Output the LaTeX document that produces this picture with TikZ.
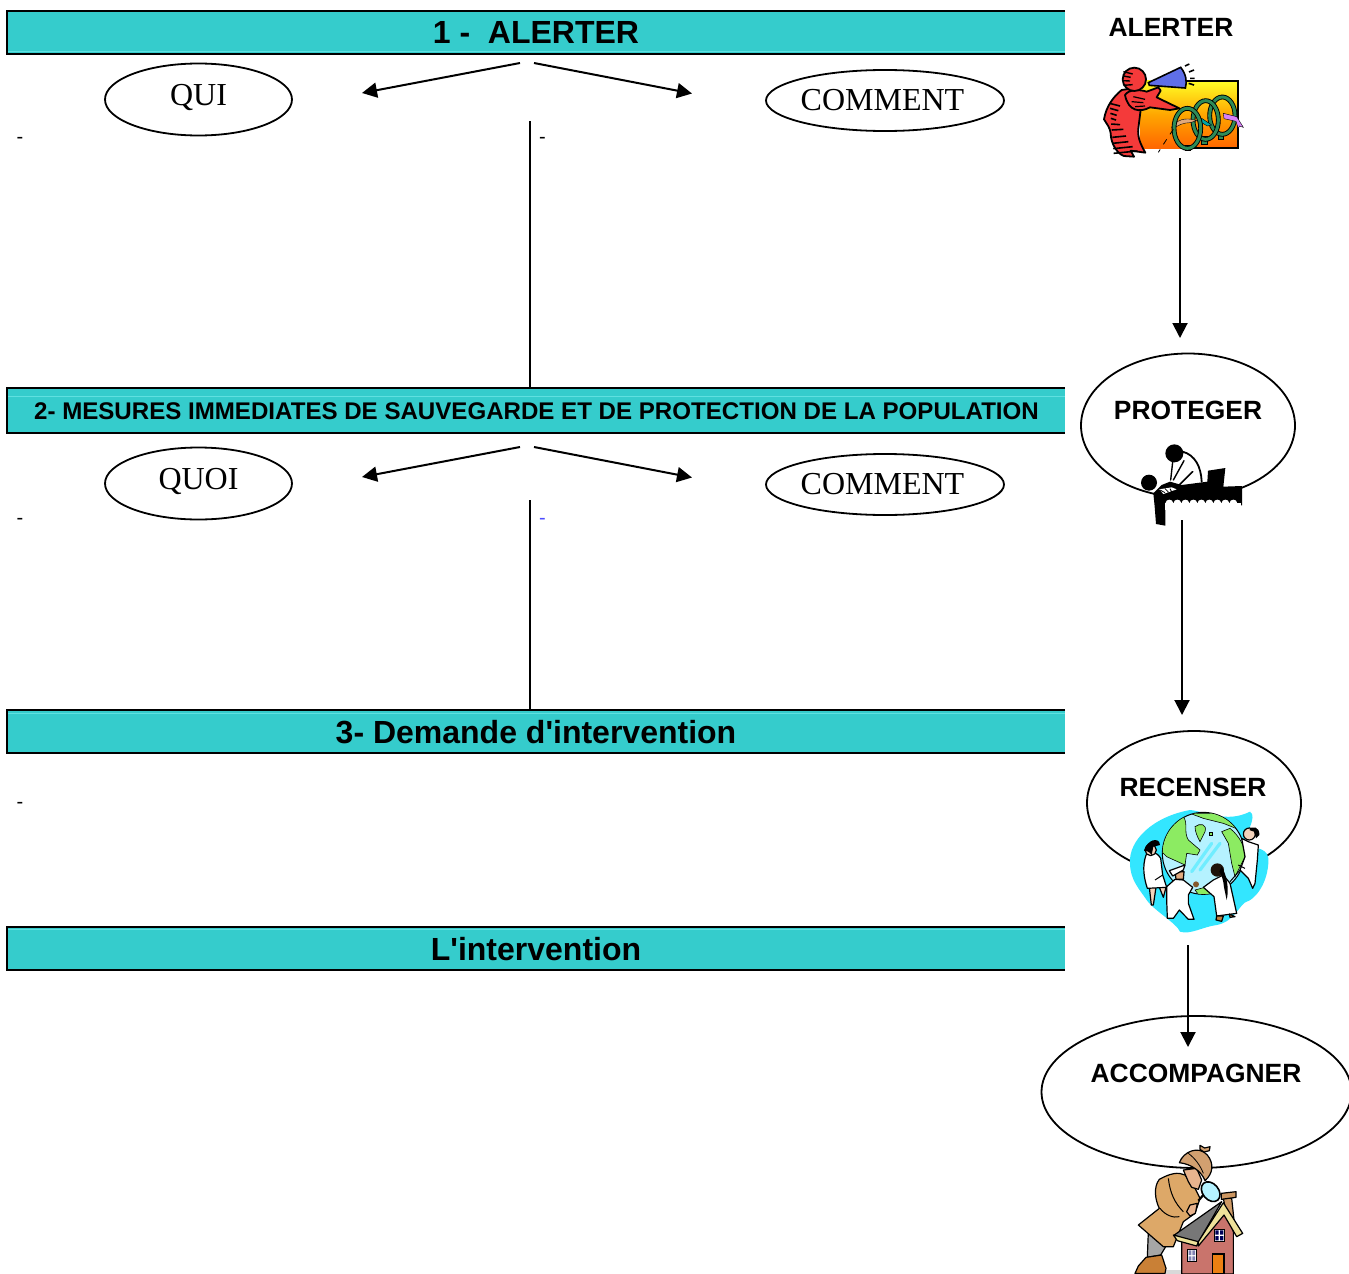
\documentclass[tikz,border=0pt]{standalone}
\usepackage{fontspec}
\setmainfont{Liberation Sans}
\newfontfamily\serifface{Liberation Serif}
\usetikzlibrary{shapes.geometric,arrows.meta}
\definecolor{barfill}{HTML}{35CCCC}
\definecolor{barline}{HTML}{5FE0E0}
\definecolor{redman}{HTML}{F43A3A}
\definecolor{megablue}{HTML}{5F6FE8}
\definecolor{ringgreen}{HTML}{2E8B57}
\definecolor{blobcyan}{HTML}{33E6FF}
\definecolor{oceanc}{HTML}{B5F2FF}
\definecolor{landg}{HTML}{8CEB62}
\definecolor{coat}{HTML}{DDA868}
\definecolor{hatc}{HTML}{D2A070}
\definecolor{wallc}{HTML}{C9746C}
\definecolor{roofc}{HTML}{777777}
\definecolor{trimc}{HTML}{EFE29A}
\definecolor{skinc}{HTML}{E9B48E}
\tikzset{
  barbox/.style={fill=barfill,inner sep=0pt,outer sep=0pt,minimum width=529pt,minimum height=#1,anchor=north west},
  barrule/.style={line width=1pt,black},
  barshine/.style={line width=0.4pt,barline},
  oval/.style={ellipse,draw=black,line width=0.9pt,fill=white,inner sep=0pt},
  serif label/.style={font=\serifface\fontsize{16}{18}\selectfont,inner sep=0pt},
  side label/.style={font=\bfseries\fontsize{13.2}{15}\selectfont,inner sep=0pt},
  bar label/.style={font=\bfseries\fontsize{16}{18}\selectfont,inner sep=0pt},
  dashmark/.style={font=\fontsize{10}{12}\selectfont,inner sep=0pt},
  link/.style={line width=1pt,-{Triangle[length=7.5pt,width=7.5pt]}},
  plainlink/.style={line width=1pt},
  art/.style={x=0.16667pt,y=-0.16667pt},
  ink/.style={draw=black,line width=0.6pt,line join=round},
}
\begin{document}
\begin{tikzpicture}[x=0.5pt,y=-0.5pt]
\useasboundingbox (0,0) rectangle (1349,1274);

% --- coloured bars
\node[barbox=21.6pt] (bar1) at (7,10.5) {};
\node[barbox=22.4pt] (bar2) at (7,388) {};
\node[barbox=21.4pt] (bar3) at (7,710) {};
\node[barbox=21.4pt] (bar4) at (7,927) {};
\draw[barshine] (8,51) -- (1065,51) (8,396) -- (1065,396) (8,713) -- (1065,713) (8,929.5) -- (1065,929.5);
\foreach \b in {bar1,bar2,bar3,bar4}
  \draw[barrule] (\b.north east) -- (\b.north west) -- (\b.south west) -- (\b.south east);
\node[bar label] (t1) at (536,32) {1 -\ \ ALERTER};
\node[font=\bfseries\fontsize{12.05}{14}\selectfont,inner sep=0pt] (t2) at (536.5,411) {2- MESURES IMMEDIATES DE SAUVEGARDE ET DE PROTECTION DE LA POPULATION};
\node[bar label] (t3) at (536,732) {3- Demande d\textquotesingle intervention};
\node[bar label] (t4) at (536,949) {L\textquotesingle intervention};

% --- left ovals
\node[oval,minimum width=93.5pt,minimum height=36pt] (qui) at (198.5,99.5) {};
\node[serif label] (quit) at (198.5,97) {QUI};
\node[oval,minimum width=119pt,minimum height=30.5pt] (com1) at (885,100.5) {};
\node[serif label] (com1t) at (882.5,100) {COMMENT};
\node[oval,minimum width=93.5pt,minimum height=36pt] (quoi) at (198.5,483.5) {};
\node[serif label] (quoit) at (198.5,481) {QUOI};
\node[oval,minimum width=119pt,minimum height=30.5pt] (com2) at (885,484.5) {};
\node[serif label] (com2t) at (882.5,484) {COMMENT};

% --- splitting arrows
\coordinate (a1l) at (520,63); \coordinate (a1lt) at (362,93);
\coordinate (a1r) at (534,63); \coordinate (a1rt) at (692,93.5);
\coordinate (a2l) at (520,447); \coordinate (a2lt) at (362,477);
\coordinate (a2r) at (534,447); \coordinate (a2rt) at (692,477.5);
\draw[link] (a1l) -- (a1lt);
\draw[link] (a1r) -- (a1rt);
\draw[link] (a2l) -- (a2lt);
\draw[link] (a2r) -- (a2rt);
\coordinate (v1) at (530,121); \coordinate (v2) at (530,500);
\draw[plainlink] (v1) -- (v1 |- bar2.north);
\draw[plainlink] (v2) -- (v2 |- bar3.north);

% --- small dashes
\node[dashmark] (d1) at (20,140) {-};
\node[dashmark] (d2) at (542.5,140) {-};
\node[dashmark] (d3) at (20,521) {-};
\node[dashmark,text=blue!70!white] (d4) at (542.5,521) {-};
\node[dashmark] (d5) at (20,805) {-};

% --- right column ovals
\node[oval,minimum width=107pt,minimum height=72pt] (prot) at (1188,425.5) {};
\node[oval,minimum width=107pt,minimum height=72pt] (rec) at (1194,803) {};
\node[oval,minimum width=155pt,minimum height=76pt] (acc) at (1196.5,1092) {};
\node[side label] (alt) at (1171,27) {ALERTER};
\node[side label] (prott) at (1188,410.5) {PROTEGER};
\node[side label] (rect) at (1193,787.5) {RECENSER};
\node[side label] (acct) at (1196,1073.5) {ACCOMPAGNER};

% --- ALERTER clipart
\begin{scope}[shift={(1090,50)},art]
  \fill[top color=yellow!85!white,bottom color=orange!80!red,middle color=orange!70!yellow] (150,92) rectangle (443,295);
  \draw[black,line width=1pt] (285,92) -- (443,92) -- (443,295) -- (300,295);
  \foreach \cx/\cy/\rx/\ry in {397/197/38/56,347/210/38/58}{
    \fill[ringgreen,draw=black,line width=0.3pt] (\cx-12,\cy+50) rectangle (\cx+4,\cy+72);
    \draw[black,line width=2.4pt] (\cx,\cy) ellipse ({\rx} and {\ry});
    \draw[ringgreen,line width=1.5pt] (\cx,\cy) ellipse ({\rx} and {\ry});
  }
  \fill[megablue!40!magenta!60!white,draw=black,line width=0.2pt] (400,190) -- (440,200) -- (460,232) -- (448,228) -- (445,236) -- (438,214) -- (402,206) -- cycle;
  \fill[teal!70!cyan,draw=black,line width=0.2pt] (335,205) -- (365,225) -- (352,228) -- (330,215) -- cycle;
  \fill[skinc!80!brown,draw=black,line width=0.2pt] (245,232) .. controls (260,210) and (285,200) .. (320,212) -- (300,218) .. controls (280,218) and (265,225) .. (250,236) -- cycle;
  \fill[ringgreen,draw=black,line width=0.3pt] (285,285) rectangle (300,300);
  \draw[black,line width=2.4pt] (292,235) ellipse (40 and 60);
  \draw[ringgreen,line width=1.5pt] (292,235) ellipse (40 and 60);
  \draw[black,line width=0.4pt,dashed] (250,238) .. controls (235,260) and (222,280) .. (205,307);
  % megaphone
  \fill[megablue,draw=black,line width=0.8pt] (175,98) -- (272,52) .. controls (288,72) and (292,95) .. (286,114) -- (178,106) -- cycle;
  \draw[black,line width=0.8pt] (285,48) -- (298,42) (297,66) -- (312,60) (300,85) -- (314,85) (296,100) -- (312,105);
  % man: legs and torso
  \fill[redman,draw=black,line width=0.9pt,line join=round] (95,120) .. controls (70,140) and (48,170) .. (42,208) .. controls (50,222) and (60,232) .. (62,250)
     .. controls (62,280) and (82,312) .. (102,318) -- (132,320) -- (122,302) -- (166,308) .. controls (150,280) and (142,260) .. (145,235)
     .. controls (148,210) and (150,195) .. (152,180) -- (175,150) .. controls (170,125) and (130,112) .. (95,120) -- cycle;
  % arm reaching the rings and arm holding the megaphone
  \fill[redman,draw=black,line width=0.9pt,line join=round] (105,135) .. controls (115,118) and (150,118) .. (170,125) -- (205,112) -- (212,122) -- (200,142)
     -- (268,175) -- (240,180) -- (180,172) .. controls (150,188) and (115,185) .. (105,135) -- cycle;
  \fill[redman,draw=black,line width=0.9pt] (133,88) circle (35);
  \foreach \ya/\xb/\yb in {160/90/168,175/85/182,190/80/196,205/78/210,222/90/224,240/100/238,262/108/258,280/115/275,296/128/290,310/142/303}
    \draw[black,line width=0.8pt] (46+\ya*0.08,\ya) -- (\xb,\yb);
  \foreach \ya/\xb/\yb in {65/128/72,78/122/82,92/120/93,106/128/104}
    \draw[black,line width=0.7pt] (100,\ya) -- (\xb,\yb);
  \draw[black,line width=0.6pt] (130,140) -- (165,148) (125,155) -- (160,158) (135,170) -- (165,168);
\end{scope}

% --- PROTEGER clipart
\begin{scope}[shift={(1120,430)},art]
  \fill[black] (100,190) -- (125,165) -- (150,155) -- (185,165) -- (262,155) -- (264,122) -- (316,114) -- (310,170) -- (366,168) -- (366,226)
     -- (136,226) -- (136,287) -- (108,282) -- (104,230) -- cycle;
  \fill[white] (136,218) rectangle (362,240);
  \foreach \sx in {148,172,...,352} \fill[white] (\sx,218) ellipse (11 and 9);
  \fill[black] (87,158) circle (24);
  \fill[black] (163,70) circle (27);
  \draw[black,line width=0.9pt,line cap=round] (188,65) .. controls (225,75) and (243,110) .. (245,155);
  \draw[black,line width=0.7pt,line cap=round] (158,96) -- (152,150);
  \draw[black,line width=0.7pt,line cap=round] (192,92) -- (160,150);
  \draw[black,line width=0.8pt,line cap=round] (218,125) -- (175,168);
  \fill[white] (118,178) -- (155,172) -- (170,178) -- (130,192) -- cycle;
  \draw[black,line width=0.4pt] (120,180) -- (135,188) (135,176) -- (145,186) (150,176) -- (155,186);
\end{scope}

% --- RECENSER clipart
\begin{scope}[shift={(1120,800)},art]
  \fill[blobcyan] (30,190) .. controls (25,120) and (100,50) .. (210,30) .. controls (260,35) and (320,70) .. (390,35)
     .. controls (415,50) and (370,110) .. (375,130) .. controls (410,150) and (450,140) .. (445,190) .. controls (440,260) and (400,300) .. (380,305)
     .. controls (360,310) and (345,365) .. (290,375) .. controls (250,380) and (210,405) .. (180,395) .. controls (170,370) and (100,330) .. (80,300)
     .. controls (60,270) and (30,240) .. (30,190) -- cycle;
  \fill[oceanc,draw=black,line width=0.5pt] (250,160) circle (123);
  \begin{scope}
    \clip (250,160) circle (122);
    \fill[landg,draw=black,line width=0.3pt] (120,150) .. controls (130,100) and (160,65) .. (190,50) .. controls (205,70) and (190,95) .. (205,120) -- (240,150) -- (232,165) -- (200,160) -- (195,195) -- (140,170) -- cycle;
    \fill[landg,draw=black,line width=0.3pt] (210,40) -- (300,40) -- (360,90) -- (310,70) -- (250,55) -- cycle;
    \fill[landg,draw=black,line width=0.3pt] (225,80) .. controls (240,68) and (262,72) .. (255,95) -- (240,125) .. controls (232,110) and (225,95) .. (225,80) -- cycle;
    \fill[landg,draw=black,line width=0.3pt] (305,95) -- (330,85) .. controls (360,110) and (375,140) .. (375,170) -- (345,230) -- (335,190) -- (325,130) -- cycle;
    \fill[landg,draw=black,line width=0.3pt] (225,270) -- (280,255) -- (280,300) -- (240,290) -- cycle;
    \fill[landg,draw=black,line width=0.2pt] (268,98) rectangle (276,106);
    \draw[blobcyan!70!white,line width=1.6pt,line cap=round] (215,215) -- (275,130) (240,210) -- (300,130);
  \end{scope}
  % left figure
  \fill[skinc!60!white,ink] (88,262) -- (108,262) -- (100,315) -- (94,315) -- cycle;
  \fill[skinc!60!white,ink] (118,262) -- (138,262) -- (130,292) -- cycle;
  \fill[white,ink] (78,165) .. controls (90,150) and (110,155) .. (122,175) -- (128,225) -- (140,262) -- (82,265) .. controls (72,235) and (66,200) .. (78,165) -- cycle;
  \fill[skinc!60!white,ink] (92,150) circle (17);
  \fill[black] (72,152) .. controls (80,120) and (118,108) .. (120,135) -- (100,140) -- (95,165) .. controls (88,155) and (80,152) .. (72,152) -- cycle;
  % right figure
  \fill[white,ink] (365,115) -- (385,125) -- (415,135) -- (412,180) -- (405,250) -- (398,265) -- (385,235) -- (360,210) -- (375,170) -- cycle;
  \fill[skinc!60!white,ink] (388,102) circle (18);
  \fill[black] (388,90) .. controls (395,75) and (420,80) .. (418,105) -- (408,115) -- (402,95) -- cycle;
  % front figures
  \fill[white,ink] (140,260) -- (165,238) -- (190,240) -- (218,262) -- (205,285) -- (205,310) -- (222,358) -- (205,358) -- (178,330) -- (160,355) -- (142,355) -- (140,300) -- cycle;
  \fill[skinc!80!brown,ink] (165,215) -- (192,215) -- (190,238) -- (168,238) -- cycle;
  \fill[white,ink] (148,212) -- (195,195) -- (190,210) -- (158,228) -- cycle;
  \fill[white,ink] (280,240) -- (310,225) -- (330,250) -- (350,340) -- (290,348) -- (282,290) -- (250,262) -- cycle;
  \fill[black!85!brown] (292,210) circle (20);
  \fill[black] (305,200) .. controls (320,225) and (328,265) .. (320,300) -- (312,262) .. controls (310,240) and (305,225) .. (298,215) -- cycle;
  \fill[brown,ink] (290,348) -- (310,348) -- (305,364) -- (288,360) -- cycle;
  \fill[brown,ink] (328,342) -- (345,350) -- (330,352) -- cycle;
  \fill[brown!70!black] (228,253) circle (9);
  \draw[black,line width=0.5pt] (128,225) -- (105,240) (330,245) -- (360,210) (355,195) -- (375,205);
\end{scope}

% --- ACCOMPAGNER clipart
\begin{scope}[shift={(1120,1140)},art]
  \fill[black!15!white] (130,390) rectangle (190,402);
  \fill[black!35!white,ink] (85,275) -- (140,315) -- (122,345) -- (82,352) -- cycle;
  \fill[brown!85!orange,ink] (78,352) -- (125,345) -- (138,385) -- (135,400) -- (45,400) -- (55,378) -- cycle;
  \fill[coat,ink] (118,118) .. controls (150,100) and (175,95) .. (195,105) -- (225,145) -- (240,175) -- (225,220) -- (190,245) -- (160,320) -- (130,320)
     -- (55,255) -- (118,205) .. controls (105,180) and (100,140) .. (118,118) -- cycle;
  \draw[black,line width=0.5pt] (145,115) .. controls (150,160) and (165,190) .. (190,215);
  \draw[black,line width=0.5pt] (120,205) .. controls (135,225) and (160,235) .. (178,230);
  \fill[skinc,ink] (190,90) -- (230,85) -- (245,120) -- (235,148) -- (215,142) -- (205,125) -- cycle;
  \fill[hatc,ink] (178,68) .. controls (190,35) and (235,15) .. (262,45) .. controls (282,70) and (280,100) .. (255,122) .. controls (245,95) and (215,72) .. (178,68) -- cycle;
  \draw[black,line width=0.4pt] (205,40) .. controls (225,55) and (240,75) .. (250,100);
  \fill[hatc,ink] (240,28) -- (240,16) -- (254,24) -- (270,20) -- (268,32) -- (252,36) -- cycle;
  \draw[black,line width=1.1pt] (235,182) -- (250,165);
  \fill[oceanc,draw=black,line width=0.8pt,rotate around={40:(272,155)}] (272,155) ellipse (24 and 33);
  \fill[skinc,ink] (200,215) -- (210,195) -- (232,190) -- (226,220) -- (210,228) -- cycle;
  \fill[hatc!80!brown,ink] (310,175) -- (335,175) -- (342,240) -- (318,215) -- cycle;
  \fill[hatc!70!brown,ink] (304,160) -- (348,155) -- (348,172) -- (304,178) -- cycle;
  \fill[wallc,ink] (185,305) -- (315,200) -- (340,275) -- (340,402) -- (185,402) -- cycle;
  \fill[roofc,ink] (163,285) -- (305,185) -- (240,298) -- (232,315) -- cycle;
  \fill[trimc,ink] (160,285) -- (235,305) -- (230,318) -- (172,302) -- cycle;
  \fill[trimc,ink] (235,305) -- (310,188) -- (368,280) -- (350,290) -- (312,225) -- (235,318) -- cycle;
  \fill[white,draw=black,line width=0.5pt] (283,268) rectangle (313,304);
  \fill[black!65!blue] (286,271) rectangle (296,284) (300,271) rectangle (310,284) (286,288) rectangle (296,301) (300,288) rectangle (310,301);
  \fill[white,draw=black,line width=0.5pt] (203,328) rectangle (228,365);
  \fill[black!60!blue!50!white] (206,331) rectangle (214,345) (217,331) rectangle (225,345) (206,349) rectangle (214,362) (217,349) rectangle (225,362);
  \fill[orange!70!brown,draw=black,line width=0.6pt] (278,342) rectangle (312,402);
\end{scope}

% --- column arrows
\coordinate (c1) at (1180,158); \coordinate (c1t) at (1180,338);
\coordinate (c2) at (1182,520); \coordinate (c2t) at (1182,715);
\coordinate (c3) at (1188,945); \coordinate (c3t) at (1188,1047);
\draw[link] (c1) -- (c1t);
\draw[link] (c2) -- (c2t);
\draw[link] (c3) -- (c3t);
\end{tikzpicture}
\end{document}
